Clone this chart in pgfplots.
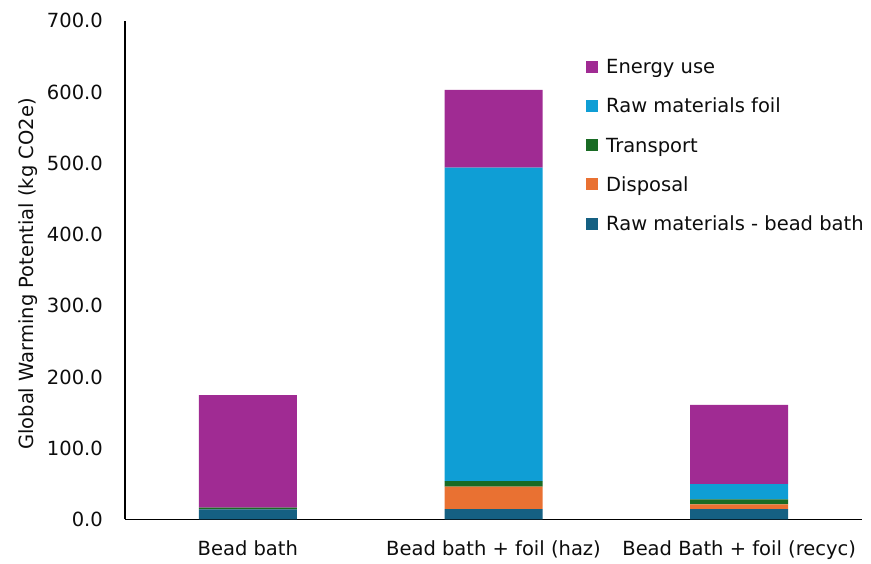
\documentclass[border=0pt]{standalone}
\usepackage{pgfplots}
\pgfplotsset{compat=1.18}
\usepackage{fontspec}
\setmainfont{DejaVu Sans}

\definecolor{rawbead}{HTML}{156082}
\definecolor{disposal}{HTML}{E97132}
\definecolor{transport}{HTML}{196B24}
\definecolor{rawfoil}{HTML}{0F9ED5}
\definecolor{energy}{HTML}{A02B93}

\newcommand{\chartfont}{\fontsize{19.5}{23}\selectfont}

\begin{document}
\begin{tikzpicture}
% canvas around the plot area
\path[use as bounding box] (-125pt,-44.5pt) rectangle (746pt,519.5pt);
\begin{axis}[
  at={(0pt,0pt)}, anchor=south west,
  scale only axis, width=737pt, height=498.8pt,
  xmin=-0.5, xmax=2.5, ymin=0, ymax=700,
  ybar stacked, bar width=98pt,
  xtick={0,1,2},
  xticklabels={Bead bath, Bead bath + foil (haz), Bead Bath + foil (recyc)},
  ytick={0,100,...,700},
  /pgf/number format/fixed,
  /pgf/number format/fixed zerofill,
  /pgf/number format/precision=1,
  /pgf/number format/assume math mode=true,
  major tick length=0pt,
  axis x line*=bottom, axis y line*=left,
  x axis line style={line width=1.6pt, -},
  y axis line style={line width=1.1pt, -},
  font=\chartfont,
  tick label style={font=\chartfont, text=black!95, inner sep=0pt},
  yticklabel style={anchor=east, xshift=-22pt},
  xticklabel style={anchor=north, yshift=-21pt},
  ylabel={Global Warming Potential (kg CO2e)},
  ylabel style={at={(axis description cs:0,0.5)}, anchor=base,
    yshift=91pt, xshift=-4pt, inner sep=0pt, text=black!95},
  legend image code/.code={\fill[#1] (0pt,-6pt) rectangle (12pt,6pt);},
  reverse legend,
  legend cell align=left,
  legend style={at={(axis description cs:0.6255,0.9226)}, anchor=north west,
    draw=none, fill=none, inner sep=0pt, row sep=25.1pt,
    nodes={inner sep=0pt, text height=14.2pt, text depth=0pt, text=black!95},
    /tikz/every odd column/.append style={column sep=8pt}},
]
\addplot[fill=rawbead, draw=none]   coordinates {(0,14.3) (1,14.6) (2,14.6)};
\addplot[fill=disposal, draw=none]  coordinates {(0,0) (1,31.4) (2,6.7)};
\addplot[fill=transport, draw=none] coordinates {(0,2.3) (1,8.0) (2,7.1)};
\addplot[fill=rawfoil, draw=none]   coordinates {(0,0) (1,439.9) (2,21.4)};
\addplot[fill=energy, draw=none]    coordinates {(0,158.1) (1,109.1) (2,110.9)};
\legend{Raw materials - bead bath, Disposal, Transport, Raw materials foil, Energy use}
\end{axis}
\end{tikzpicture}
\end{document}
